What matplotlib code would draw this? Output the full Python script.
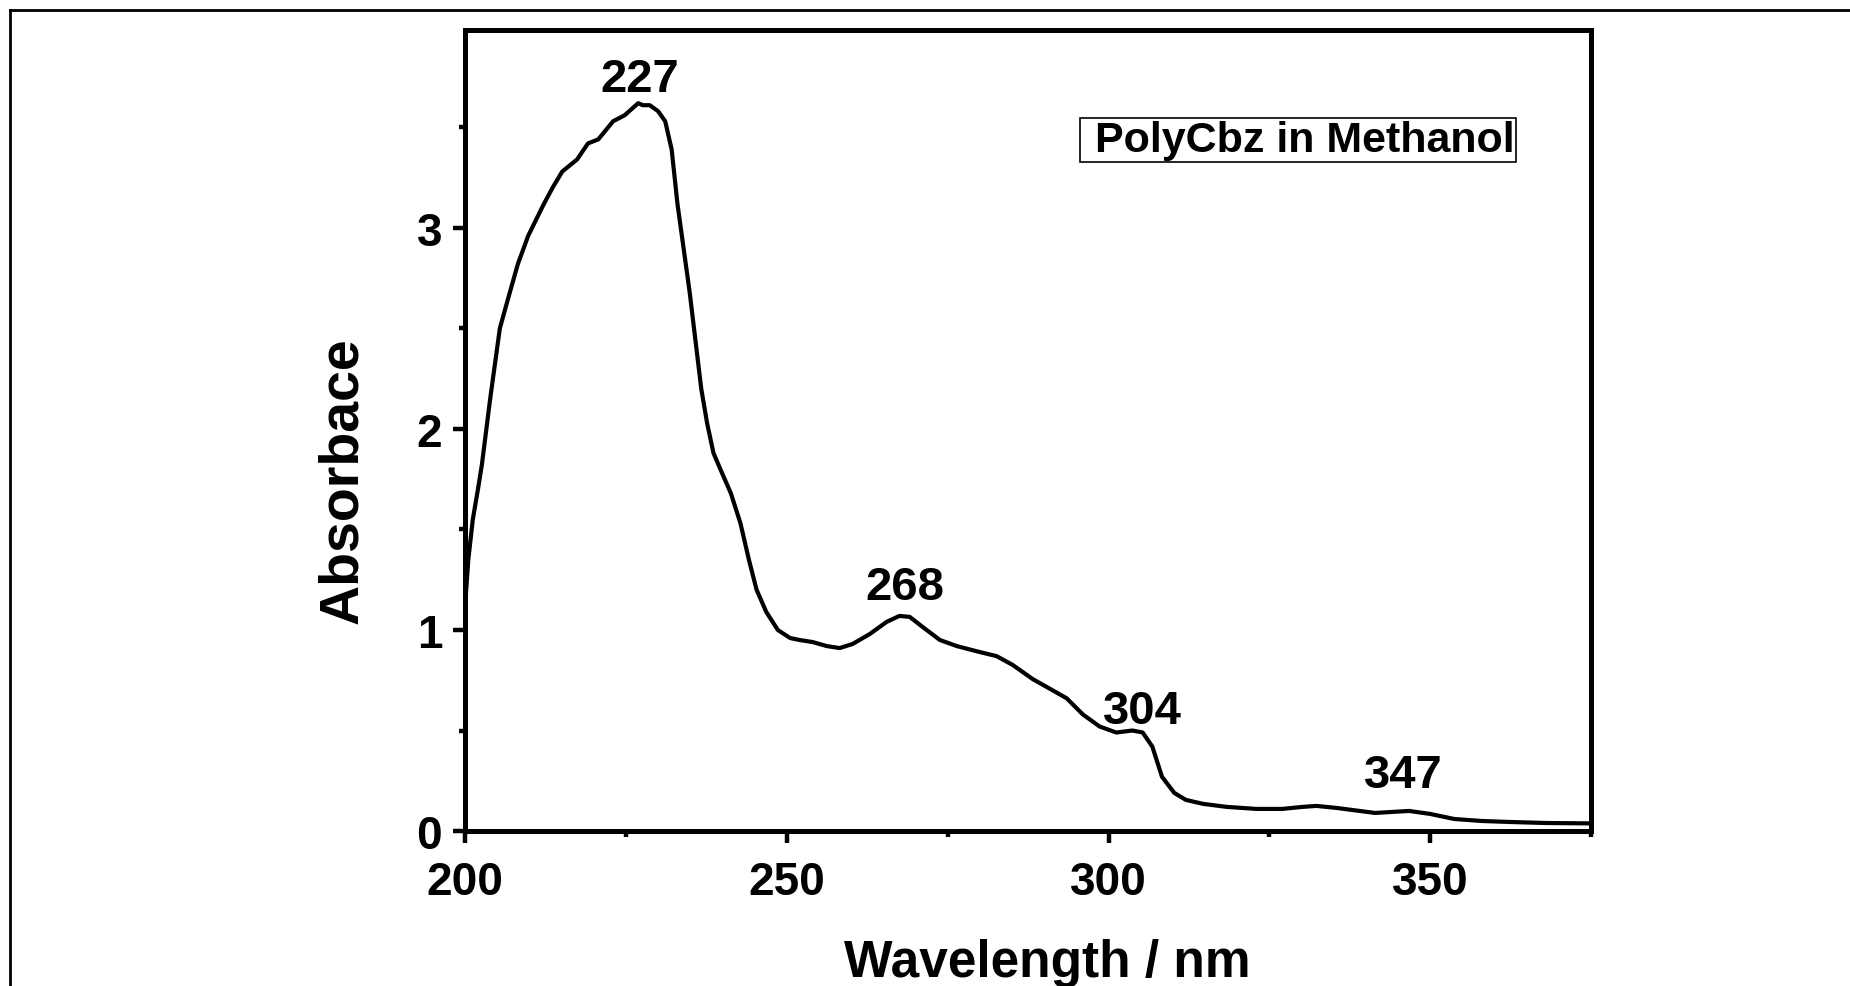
import matplotlib
matplotlib.use("Agg")
import matplotlib.pyplot as plt
from matplotlib.lines import Line2D
from matplotlib.ticker import MultipleLocator

plt.rcParams['font.family'] = ['Liberation Sans', 'DejaVu Sans']
plt.rcParams['font.weight'] = 'bold'

# UV-Vis spectrum
wavelength = [200.0, 200.5, 201.2, 202.0, 202.6, 203.9, 205.4, 206.7, 208.2, 209.8,
              212.1, 213.6, 215.1, 217.4, 219.1, 220.7, 223.0, 224.8, 226.9, 227.6,
              228.7, 230.0, 231.1, 232.1, 233.0, 234.9, 236.7, 237.6, 238.6,
              239.8, 241.3, 242.8, 244.1, 245.3, 246.8, 248.6, 250.5, 252.0, 254.0,
              256.2, 258.2, 260.2, 262.9, 265.5, 267.5, 269.1, 271.1, 273.8, 276.4,
              280.0, 282.6, 285.1, 288.2, 291.3, 293.5, 296.0, 298.6, 301.2, 303.7,
              305.3, 306.8, 308.3, 310.2, 312.0, 314.7, 318.4, 323.0, 327.0, 330.1,
              332.3, 335.4, 341.4, 346.7, 350.0, 353.7, 358.0, 362.4, 368.0, 375.0]
absorbance = [1.12, 1.35, 1.55, 1.70, 1.82, 2.15, 2.50, 2.65, 2.82, 2.96,
              3.11, 3.20, 3.28, 3.34, 3.42, 3.44, 3.53, 3.56, 3.62, 3.61,
              3.61, 3.58, 3.53, 3.39, 3.12, 2.68, 2.20, 2.03, 1.88,
              1.79, 1.68, 1.53, 1.35, 1.20, 1.09, 1.00, 0.96, 0.95, 0.94,
              0.92, 0.91, 0.93, 0.98, 1.04, 1.07, 1.065, 1.015, 0.95, 0.92,
              0.89, 0.87, 0.826, 0.756, 0.70, 0.66, 0.58, 0.52, 0.49, 0.50,
              0.49, 0.42, 0.27, 0.19, 0.155, 0.135, 0.12, 0.11, 0.11, 0.12,
              0.125, 0.115, 0.09, 0.10, 0.085, 0.06, 0.05, 0.045, 0.04, 0.038]

peak_labels = ['227', '268', '304', '347']
peak_x = [227.2, 268.3, 305.3, 345.8]
peak_y = [3.68, 1.155, 0.537, 0.22]

fig = plt.figure(figsize=(18.5, 9.87), dpi=100)
ax = fig.add_axes([0.2514, 0.157, 0.6087, 0.8118])

ax.plot(wavelength, absorbance, color='black', lw=3.0)

ax.set_xlim(200, 375)
ax.set_ylim(0, 3.985)
ax.xaxis.set_major_locator(MultipleLocator(50))
ax.xaxis.set_minor_locator(MultipleLocator(25))
ax.yaxis.set_major_locator(MultipleLocator(1))
ax.yaxis.set_minor_locator(MultipleLocator(0.5))

for sp in ax.spines.values():
    sp.set_linewidth(3.6)
ax.tick_params(which='major', direction='out', length=8.5, width=3.2,
               labelsize=33)
ax.tick_params(axis='x', which='major', pad=12)
ax.tick_params(axis='y', which='major', pad=8)
ax.tick_params(which='minor', direction='out', length=4, width=3.2)
for lab in ax.get_xticklabels() + ax.get_yticklabels():
    lab.set_fontweight('bold')

ax.set_xlabel('Wavelength / nm', fontsize=37, fontweight='bold')
ax.set_ylabel('Absorbace', fontsize=40, fontweight='bold')
ax.xaxis.set_label_coords(0.517, -0.133)
ax.yaxis.set_label_coords(-0.085, 0.439)

for lab, px, py in zip(peak_labels, peak_x, peak_y):
    ax.text(px, py, lab, ha='center', va='baseline', fontsize=34,
            fontweight='bold')

ax.text(0.740, 0.8627, ' PolyCbz in Methanol', transform=ax.transAxes,
        ha='center', va='center', fontsize=31, fontweight='bold',
        bbox=dict(boxstyle='square,pad=0.05', facecolor='white',
                  edgecolor='black', linewidth=1.2))

# partial outer frame (left and top edges)
fig.add_artist(Line2D([10 / 1850, 10 / 1850], [0, 1 - 11 / 987],
                      transform=fig.transFigure, color='black', lw=2))
fig.add_artist(Line2D([10 / 1850, 1], [1 - 11 / 987, 1 - 11 / 987],
                      transform=fig.transFigure, color='black', lw=2))

fig.savefig('out.png', dpi=100)
